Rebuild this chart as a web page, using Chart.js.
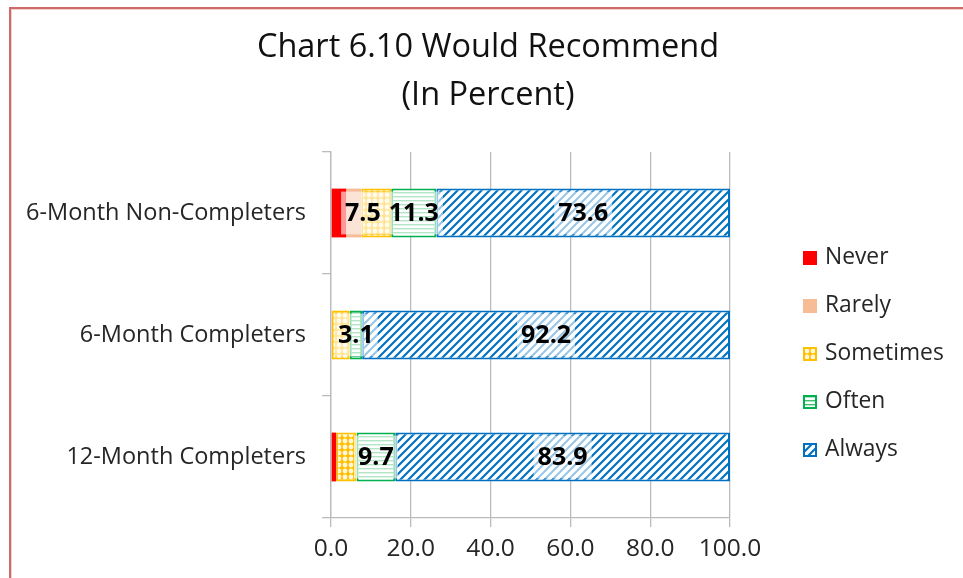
<!DOCTYPE html>
<html>
<head>
<meta charset="utf-8">
<title>Chart 6.10 Would Recommend</title>
<script src="https://cdn.jsdelivr.net/npm/chart.js@4.4.1/dist/chart.umd.min.js"></script>
<style>
  html, body { margin: 0; padding: 0; background: #ffffff; overflow: hidden; }
  #wrap { position: relative; width: 963px; height: 578px; }
  #frame {
    position: absolute; left: 9px; top: 7px; width: 2000px; height: 2000px;
    border-top: 2px solid #CC6B68; border-left: 2px solid #CC6B68;
    box-shadow: inset 1px 1px 0 #F2CFCD; pointer-events: none;
  }
  canvas { position: absolute; left: 0; top: 0; }
</style>
</head>
<body>
<div id="wrap">
  <canvas id="chart" width="963" height="578"></canvas>
  <div id="frame"></div>
</div>
<script>
// Survey groups (top to bottom) and the share of each answer, in percent
const groups = ['6-Month Non-Completers', '6-Month Completers', '12-Month Completers'];
const never     = [3.8, 0, 1.3];
const rarely    = [3.8, 0, 0];
const sometimes = [7.5, 4.7, 5.1];
const often     = [11.3, 3.1, 9.7];
const always    = [73.6, 92.2, 83.9];

// Which segments carry a value label
const showNever     = [false, false, false];
const showRarely    = [false, false, false];
const showSometimes = [true, false, false];
const showOften     = [true, true, true];
const showAlways    = [true, true, true];

const xTicks = [0, 20, 40, 60, 80, 100];
const titleLines = ['Chart 6.10 Would Recommend', '(In Percent)'];

const FONT = "'Open Sans', 'Noto Sans', sans-serif";

function makePattern(w, h, paint) {
  const c = document.createElement('canvas');
  c.width = w; c.height = h;
  const g = c.getContext('2d');
  paint(g, w, h);
  return g.createPattern(c, 'repeat');
}

// Light circles on orange
const dotPattern = makePattern(6, 6, (g, w, h) => {
  g.fillStyle = '#FFC000';
  g.fillRect(0, 0, w, h);
  g.fillStyle = '#FFF6DC';
  g.beginPath();
  g.arc(3, 3, 2.4, 0, Math.PI * 2);
  g.fill();
});

// Horizontal green stripes
const hStripePattern = makePattern(4, 4, (g, w, h) => {
  g.fillStyle = '#FFFFFF';
  g.fillRect(0, 0, w, h);
  g.fillStyle = '#3CBF72';
  g.fillRect(0, 0, w, 1.4);
});

// Rising diagonal blue stripes
const diagPattern = makePattern(8, 8, (g, w, h) => {
  g.fillStyle = '#FFFFFF';
  g.fillRect(0, 0, w, h);
  g.strokeStyle = '#0070C0';
  g.lineWidth = 2.1;
  g.beginPath();
  g.moveTo(-1, 9); g.lineTo(9, -1);
  g.moveTo(-1, 1); g.lineTo(1, -1);
  g.moveTo(7, 9); g.lineTo(9, 7);
  g.stroke();
});

const series = [
  { label: 'Never',     data: never,     show: showNever,     backgroundColor: '#FF0000',      borderColor: '#FF0000', borderWidth: 0 },
  { label: 'Rarely',    data: rarely,    show: showRarely,    backgroundColor: '#F6BC96',      borderColor: '#F6BC96', borderWidth: 0 },
  { label: 'Sometimes', data: sometimes, show: showSometimes, backgroundColor: dotPattern,     borderColor: '#FFC000', borderWidth: 2 },
  { label: 'Often',     data: often,     show: showOften,     backgroundColor: hStripePattern, borderColor: '#00B050', borderWidth: 2 },
  { label: 'Always',    data: always,    show: showAlways,    backgroundColor: diagPattern,    borderColor: '#0070C0', borderWidth: 2 }
];

// Two-line heading centred over the whole figure
const heading = {
  id: 'heading',
  afterDraw(chart) {
    const ctx = chart.ctx;
    ctx.save();
    ctx.font = "32.5px " + FONT;
    ctx.fillStyle = '#111111';
    ctx.textAlign = 'center';
    ctx.textBaseline = 'alphabetic';
    const cx = (chart.width + 13) / 2;
    ctx.fillText(titleLines[0], cx, 57);
    ctx.fillText(titleLines[1], cx, 105);
    ctx.restore();
  }
};

// Value labels with a soft white backing, centred on each segment
const valueLabels = {
  id: 'valueLabels',
  afterDatasetsDraw(chart) {
    const ctx = chart.ctx;
    ctx.save();
    ctx.font = "bold 25px " + FONT;
    ctx.textAlign = 'center';
    ctx.textBaseline = 'middle';
    chart.data.labels.forEach((_, i) => {
      const items = [];
      chart.data.datasets.forEach((ds, di) => {
        const el = chart.getDatasetMeta(di).data[i];
        if (!ds.show[i] || !ds.data[i]) return;
        const txt = ds.data[i].toFixed(1);
        const w = ctx.measureText(txt).width;
        items.push({ txt, w, cx: (el.x + el.base) / 2, cy: el.y, h: el.height });
      });
      // keep neighbouring labels from running into each other
      for (let k = items.length - 2; k >= 0; k--) {
        const cur = items[k], nxt = items[k + 1];
        const nxtLeft = nxt.cx - nxt.w / 2 - 4;
        if (cur.cx + cur.w / 2 + 4 > nxtLeft) cur.cx = nxtLeft - 4 - cur.w / 2;
      }
      items.forEach(it => {
        ctx.fillStyle = 'rgba(255,255,255,0.6)';
        ctx.fillRect(it.cx - it.w / 2 - 4, it.cy - it.h / 2 + 3, it.w + 8, it.h - 6);
        ctx.fillStyle = '#000000';
        ctx.fillText(it.txt, it.cx, it.cy + 1);
      });
    });
    ctx.restore();
  }
};

// Legend column to the right of the plot
const sideLegend = {
  id: 'sideLegend',
  afterDraw(chart) {
    const ctx = chart.ctx;
    const area = chart.chartArea;
    const x0 = area.right + 73;
    const y0 = area.top + 106;
    const step = 48;
    ctx.save();
    ctx.font = "22.8px " + FONT;
    ctx.textBaseline = 'middle';
    ctx.textAlign = 'left';
    chart.data.datasets.forEach((ds, i) => {
      const cy = y0 + i * step;
      ctx.fillStyle = ds.backgroundColor;
      ctx.fillRect(x0, cy - 7, 14, 14);
      if (ds.borderWidth) {
        ctx.strokeStyle = ds.borderColor;
        ctx.lineWidth = 2;
        ctx.strokeRect(x0 + 1, cy - 6, 12, 12);
      }
      ctx.fillStyle = '#262626';
      ctx.fillText(ds.label, x0 + 22, cy);
    });
    ctx.restore();
  }
};

new Chart(document.getElementById('chart'), {
  type: 'bar',
  data: { labels: groups, datasets: series },
  plugins: [valueLabels, sideLegend, heading],
  options: {
    indexAxis: 'y',
    responsive: false,
    animation: false,
    devicePixelRatio: 1,
    layout: { padding: { left: 0, right: 233, top: 152, bottom: 0 } },
    datasets: {
      bar: { categoryPercentage: 1.0, barPercentage: 0.4, borderSkipped: false }
    },
    plugins: {
      legend: { display: false },
      tooltip: { enabled: false },
      title: { display: false }
    },
    scales: {
      x: {
        stacked: true,
        min: 0,
        max: 100,
        afterBuildTicks(scale) { scale.ticks = xTicks.map(v => ({ value: v })); },
        afterFit(scale) { scale.height = 60; },
        grid: { color: '#BBBBBB', lineWidth: 1.3, tickLength: 9, drawOnChartArea: true },
        border: { display: true, color: '#BBBBBB', width: 1.3 },
        ticks: {
          color: '#262626',
          padding: 7,
          font: { family: FONT, size: 24.5 },
          callback: (v) => Number(v).toFixed(1)
        }
      },
      y: {
        stacked: true,
        afterFit(scale) { scale.width = 331; },
        grid: { offset: true, drawOnChartArea: false, color: '#BBBBBB', lineWidth: 1.3, tickLength: 9 },
        border: { display: true, color: '#BBBBBB', width: 1.3 },
        ticks: {
          color: '#262626',
          padding: 16,
          font: { family: FONT, size: 23.5 }
        }
      }
    }
  }
});
</script>
</body>
</html>
